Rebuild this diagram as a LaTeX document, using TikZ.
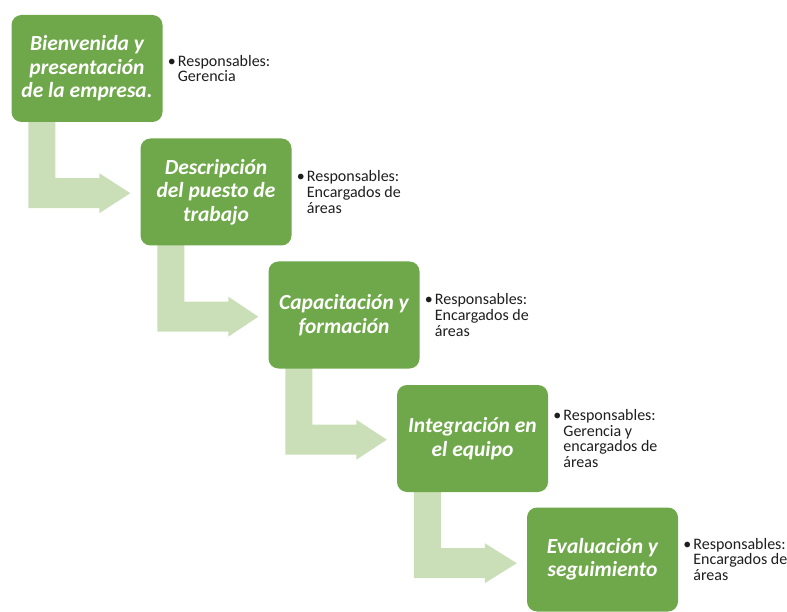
\documentclass[tikz,border=0pt]{standalone}
\usepackage{fontspec}
\setmainfont{Carlito}
\usetikzlibrary{calc,backgrounds}
\definecolor{boxgreen}{HTML}{6FA84A}
\definecolor{arrowgreen}{HTML}{CADFB8}
\definecolor{labeltext}{HTML}{1E1E1E}
\tikzset{
  stepbox/.style={fill=boxgreen, rounded corners=10pt, minimum width=151pt, minimum height=107pt,
    inner sep=0pt, text=white, align=center, font=\fontsize{21.5}{23.5}\selectfont\bfseries\itshape},
  resplabel/.style={anchor=west, inner sep=0pt, align=left, text=labeltext,
    font=\fontsize{16}{15.8}\selectfont},
  bentarrow/.style={fill=arrowgreen, draw=none}
}
\newcommand{\bul}{\llap{•\hspace{2pt}}}
\begin{document}
\begin{tikzpicture}[x=1pt,y=-1pt]
\useasboundingbox (0,0) rectangle (787,612);
\node[stepbox] (b1) at (87,68.5) {Bienvenida y\\presentación\\de la empresa.};
\node[stepbox] (b2) at (216,192) {Descripción\\del puesto de\\trabajo};
\node[stepbox] (b3) at (344,315) {Capacitación y\\formación};
\node[stepbox] (b4) at (472.5,438.5) {Integración en\\el equipo};
\node[stepbox, minimum height=104pt] (b5) at (602.5,559.5) {Evaluación y\\seguimiento};

\node[resplabel] (r1) at ($(b1.east)+(15,0)$) {\bul Responsables:\\Gerencia};
\node[resplabel] (r2) at ($(b2.east)+(15,0)$) {\bul Responsables:\\Encargados de\\áreas};
\node[resplabel] (r3) at ($(b3.east)+(15,0)$) {\bul Responsables:\\Encargados de\\áreas};
\node[resplabel] (r4) at ($(b4.east)+(15,0)$) {\bul Responsables:\\Gerencia y\\encargados de\\áreas};
\node[resplabel] (r5) at ($(b5.east)+(15,0)$) {\bul Responsables:\\Encargados de\\áreas};

\begin{scope}[on background layer]
\foreach \a/\b in {b1/b2, b2/b3, b3/b4, b4/b5} {
  \fill[bentarrow]
    ($(\a.south west)+(17,-4)$) -- ($(\a.south west)+(44,-4)$)
    -- ($(\a.south west)+(44,56)$) -- ($(\a.south west)+(88,56)$)
    -- ($(\a.south west)+(88,51)$) -- ($(\b.west |- \a.south west)+(-10,71)$)
    -- ($(\a.south west)+(88,91)$) -- ($(\a.south west)+(88,86)$)
    -- ($(\a.south west)+(17,86)$) -- cycle;
}
\end{scope}
\end{tikzpicture}
\end{document}
